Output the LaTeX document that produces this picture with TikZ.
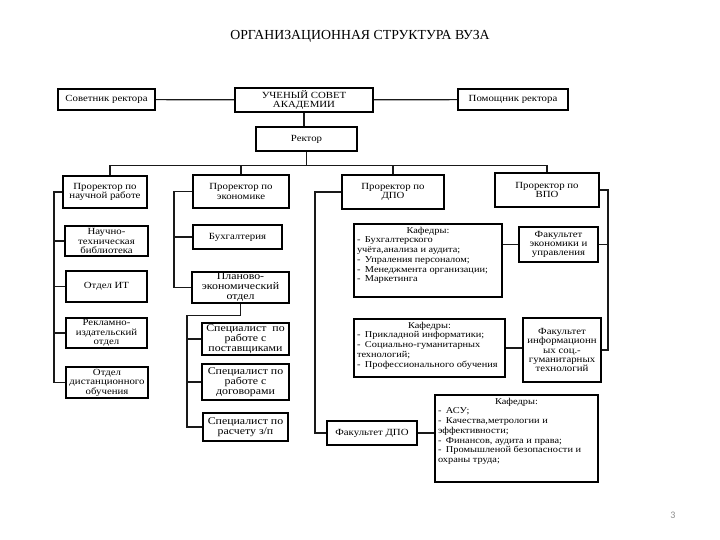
\documentclass[tikz,border=0pt]{standalone}
\usepackage{fontspec}
\setmainfont{Liberation Serif}
\newfontfamily\boxfont[FakeStretch=1.15]{Liberation Serif}
\newfontfamily\numfont{Carlito}
\usepackage{tikz}
\usetikzlibrary{positioning}
\tikzstyle{unit} = [draw, line width=1.6pt, align=center, inner sep=0.5pt, font=\boxfont\fontsize{9.4}{9.4}\selectfont]
\tikzstyle{wide} = [unit, font=\boxfont\fontsize{10.3}{10}\selectfont]
\tikzstyle{kaf} = [draw, line width=1.6pt, inner sep=3pt, font=\boxfont\fontsize{9}{9.7}\selectfont]
\tikzstyle{link} = [line width=1.2pt, black!90]

\begin{document}
\begin{tikzpicture}[x=1pt,y=-1pt]
	\useasboundingbox (0,0) rectangle (720,540);
	% title
	\node (title) at (360,36) {\fontsize{13.8}{16}\selectfont ОРГАНИЗАЦИОННАЯ СТРУКТУРА ВУЗА};

	% top level
	\node[unit, minimum width=97pt, minimum height=21pt] (advisor) at (106.5,99.5) {Советник ректора};
	\node[unit, minimum width=138pt, minimum height=24pt] (council) at (304,100) {УЧЕНЫЙ СОВЕТ\\АКАДЕМИИ};
	\node[unit, minimum width=110pt, minimum height=21pt] (helper) at (513,99.5) {Помощник ректора};
	\node[unit, minimum width=101pt, minimum height=24pt] (rector) at (306.5,139) {Ректор};

	% vice-rectors
	\node[unit, minimum width=84pt, minimum height=32pt] (prsci) at (105,192) {Проректор по\\научной работе};
	\node[unit, minimum width=96pt, minimum height=33pt] (precon) at (241,191.5) {Проректор по\\экономике};
	\node[unit, minimum width=102pt, minimum height=34pt] (prdpo) at (393,192) {Проректор по\\ДПО};
	\node[unit, minimum width=104pt, minimum height=34pt] (prvpo) at (547,190) {Проректор по\\ВПО};

	% science
	\node[unit, minimum width=83pt, minimum height=30pt] (library) at (106.5,241) {Научно-\\техническая\\библиотека};
	\node[unit, minimum width=81pt, minimum height=31pt] (itdept) at (106.5,286.5) {Отдел ИТ};
	\node[unit, minimum width=81pt, minimum height=30pt] (press) at (106.5,333) {Рекламно-\\издательский\\отдел};
	\node[unit, minimum width=82pt, minimum height=31pt] (distant) at (107,382.5) {Отдел\\дистанционного\\обучения};

	% economics
	\node[unit, minimum width=89pt, minimum height=24pt] (accounts) at (237.5,237) {Бухгалтерия};
	\node[wide, minimum width=97pt, minimum height=31pt] (plan) at (240.5,287.5) {Планово-\\экономический\\отдел};
	\node[wide, minimum width=87pt, minimum height=32pt] (supply) at (245.5,339) {Специалист \ по\\работе с\\поставщиками};
	\node[wide, minimum width=87pt, minimum height=36pt] (contracts) at (245.5,382) {Специалист по\\работе с\\договорами};
	\node[wide, minimum width=85pt, minimum height=28pt] (pay) at (245.5,427) {Специалист по\\расчету з/п};

	% faculties
	\node[kaf] (kafeco) at (428,260.5) {\parbox[c][67pt][t]{142pt}{\centering Кафедры:\par\raggedright
		-\enspace Бухгалтерского\\
		учёта,анализа и аудита;\\
		-\enspace Упраления персоналом;\\
		-\enspace Менеджмента организации;\\
		-\enspace Маркетинга}};
	\node[unit, minimum width=79pt, minimum height=35pt] (faceco) at (558.5,244.5) {Факультет\\экономики и\\управления};
	\node[kaf] (kafinf) at (429.5,348) {\parbox[c][52pt][t]{145pt}{\centering Кафедры:\par\raggedright
		-\enspace Прикладной информатики;\\
		-\enspace Социально-гуманитарных\\
		технологий;\\
		-\enspace Профессионального обучения}};
	\node[unit, minimum width=78pt, minimum height=64pt] (facinf) at (562,350) {Факультет\\информационн\\ых соц.-\\гуманитарных\\технологий};
	\node[unit, minimum width=90pt, minimum height=24pt] (facdpo) at (372,433) {Факультет ДПО};
	\node[kaf] (kafdpo) at (516.5,438.5) {\parbox[c][81pt][t]{157pt}{\centering Кафедры:\par\raggedright
		-\enspace АСУ;\\
		-\enspace Качества,метрологии и\\
		эффективности;\\
		-\enspace Финансов, аудита и права;\\
		-\enspace Промышленой безопасности и\\
		охраны труда;}};

	% page number
	\node[text=black!45, font=\numfont\fontsize{10}{12}\selectfont] (page) at (673,515) {3};

	% lines
	\draw[link] (advisor) -- (council);
	\draw[link] (council) -- (helper);
	\draw[link] (council.south) -- (council.south |- rector.north);
	\draw[link] (rector.south) -- ++(0,14) coordinate (bus);
	\draw[link] ([xshift=5pt]prsci.north) |- (bus) -| (prvpo.north);
	\draw[link] (precon.north) -- (precon.north |- bus);
	\draw[link] (prdpo.north) -- (prdpo.north |- bus);

	\coordinate (scitrunk) at (54,0);
	\draw[link] (prsci.west) -| (scitrunk |- distant.west) -- (distant.west);
	\foreach \n in {library, itdept, press}
		\draw[link] (scitrunk |- \n.west) -- (\n.west);

	\coordinate (ecotrunk) at (174,0);
	\coordinate (spectrunk) at (187,0);
	\draw[link] (precon.west) -| (ecotrunk |- plan.west) -- (plan.west);
	\draw[link] (ecotrunk |- accounts.west) -- (accounts.west);
	\draw[link] (plan.south) -- ++(0,12) -| (spectrunk |- pay.west) -- (pay.west);
	\foreach \n in {supply, contracts}
		\draw[link] (spectrunk |- \n.west) -- (\n.west);

	\coordinate (dpotrunk) at (315,0);
	\draw[link] (prdpo.west) -| (dpotrunk |- facdpo.west) -- (facdpo.west);
	\draw[link] (facdpo.east) -- (facdpo.east -| kafdpo.west);

	\coordinate (vpotrunk) at (608,0);
	\draw[link] (prvpo.east) -| (vpotrunk |- facinf.east) -- (facinf.east);
	\draw[link] (vpotrunk |- faceco.east) -- (faceco.east);
	\draw[link] (faceco.west) -- (faceco.west -| kafeco.east);
	\draw[link] (kafinf.east) -- (kafinf.east -| facinf.west);
\end{tikzpicture}
\end{document}
